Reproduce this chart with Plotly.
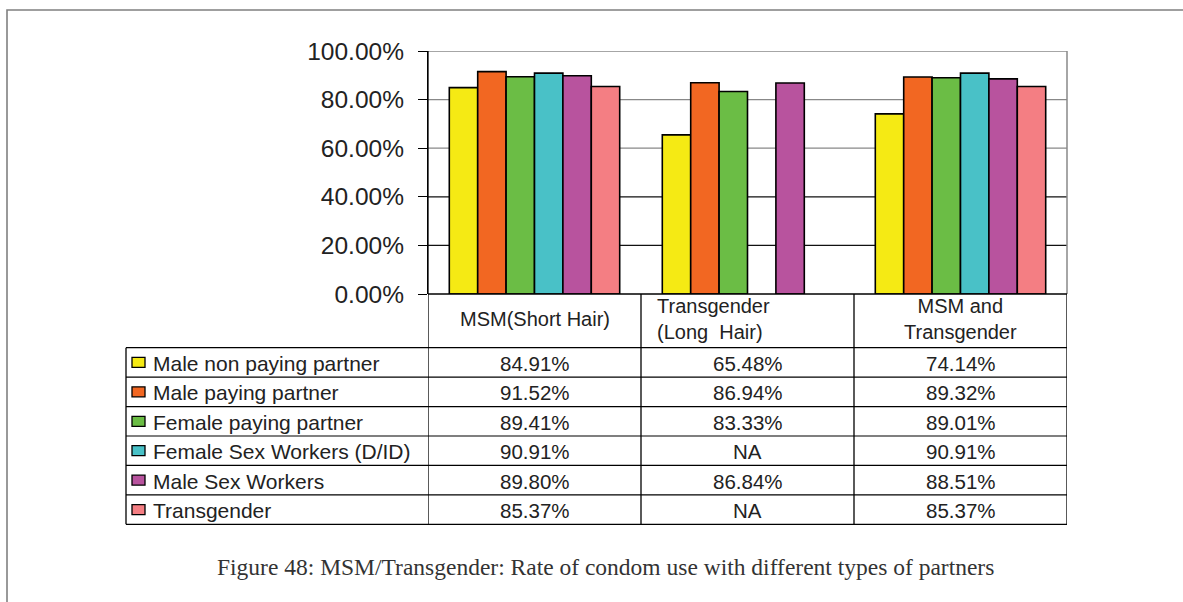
import plotly.graph_objects as go

# ---- data -------------------------------------------------------------
categories = ["MSM(Short Hair)", "Transgender (Long Hair)", "MSM and Transgender"]
category_headers = ["MSM(Short Hair)", "Transgender<br>(Long\u00a0\u00a0Hair)", "MSM and<br>Transgender"]

series_names = [
    "Male non paying partner",
    "Male paying partner",
    "Female paying partner",
    "Female Sex Workers (D/ID)",
    "Male Sex Workers",
    "Transgender",
]
male_non_paying = [84.91, 65.48, 74.14]
male_paying = [91.52, 86.94, 89.32]
female_paying = [89.41, 83.33, 89.01]
female_sex_workers = [90.91, None, 90.91]
male_sex_workers = [89.80, 86.84, 88.51]
transgender = [85.37, None, 85.37]
series_values = [male_non_paying, male_paying, female_paying,
                 female_sex_workers, male_sex_workers, transgender]

y_ticks = [0, 20, 40, 60, 80, 100]
y_tick_labels = [f"{t:.2f}%" for t in y_ticks]
caption = "Figure 48: MSM/Transgender: Rate of condom use with different types of partners"

# ---- style ------------------------------------------------------------
colors = ["#F5EA14", "#F26722", "#6BBD45", "#49C1C7", "#B8539E", "#F47E83"]
SANS = "Liberation Sans, Arial, sans-serif"
SERIF = "Liberation Serif, Times New Roman, serif"
TEXT = "#222222"

W, H = 1183, 602
PL, PR, PT, PB = 428, 1067, 51, 294  # plot area in pixels


def px(x):
    return (x - PL) / (PR - PL)


def py(y):
    return (PB - y) / (PB - PT)


HEADER_BOTTOM = 347.7
ROW_H = 29.43
TABLE_LEFT = 126

fig = go.Figure()
for name, vals, col in zip(series_names, series_values, colors):
    fig.add_trace(go.Bar(
        x=categories, y=vals, name=name,
        marker=dict(color=col, line=dict(color="black", width=1.6)),
        showlegend=False, hoverinfo="x+y+name",
    ))

shapes = []
annotations = []

# gridlines
for t in y_ticks[1:]:
    shapes.append(dict(type="line", xref="paper", yref="y", x0=0, x1=1, y0=t, y1=t,
                       line=dict(color="#888888" if t >= 60 else "#111111", width=1.3),
                       layer="below"))
# right border of plot area
shapes.append(dict(type="line", xref="paper", yref="paper", x0=1, x1=1, y0=0, y1=1,
                   line=dict(color="#888888", width=1.5)))

# table: horizontal rules
shapes.append(dict(type="line", xref="paper", yref="paper", x0=0, x1=1, y0=0, y1=0,
                   line=dict(color="black", width=1.3)))
for i in range(len(series_names) + 1):
    yy = HEADER_BOTTOM + i * ROW_H
    shapes.append(dict(type="line", xref="paper", yref="paper",
                       x0=px(TABLE_LEFT), x1=1, y0=py(yy), y1=py(yy),
                       line=dict(color="black", width=1.2)))
# table: vertical rules on category boundaries
table_bottom = HEADER_BOTTOM + len(series_names) * ROW_H
for k in range(len(categories) + 1):
    shapes.append(dict(type="line", xref="x", yref="paper",
                       x0=k - 0.5, x1=k - 0.5, y0=1 if k == 0 else 0, y1=py(table_bottom),
                       line=dict(color="black", width=1.3)))
shapes.append(dict(type="line", xref="paper", yref="paper",
                   x0=px(TABLE_LEFT), x1=px(TABLE_LEFT), y0=py(HEADER_BOTTOM), y1=py(table_bottom),
                   line=dict(color="black", width=1.3)))

# header cells
for k, hdr in enumerate(category_headers):
    if k == 1:
        annotations.append(dict(xref="paper", yref="paper", x=px(655), y=py(319),
                                text=hdr, showarrow=False, xanchor="left", yanchor="middle",
                                align="left", font=dict(family=SANS, size=20, color=TEXT)))
    else:
        annotations.append(dict(xref="x", yref="paper", x=categories[k], y=py(319),
                                text=hdr, showarrow=False, xanchor="center", yanchor="middle",
                                align="center", font=dict(family=SANS, size=20, color=TEXT)))

# rows: legend swatch, series name, values
for i, (name, vals, col) in enumerate(zip(series_names, series_values, colors)):
    yc = HEADER_BOTTOM + (i + 0.5) * ROW_H
    shapes.append(dict(type="rect", xref="paper", yref="paper",
                       x0=px(132), x1=px(145), y0=py(yc - 5), y1=py(yc + 5),
                       fillcolor=col, line=dict(color="black", width=1.3)))
    annotations.append(dict(xref="paper", yref="paper", x=px(151), y=py(yc + 1),
                            text=name, showarrow=False, xanchor="left", yanchor="middle",
                            font=dict(family=SANS, size=21, color=TEXT)))
    for cat, v in zip(categories, vals):
        label = "NA" if v is None else f"{v:.2f}%"
        annotations.append(dict(xref="x", yref="paper", x=cat, y=py(yc + 1),
                                text=label, showarrow=False, xanchor="center", yanchor="middle",
                                font=dict(family=SANS, size=20.5, color=TEXT)))

# caption
annotations.append(dict(xref="paper", yref="paper", x=px(605), y=py(567),
                        text=caption, showarrow=False, xanchor="center", yanchor="middle",
                        font=dict(family=SERIF, size=23.5, color="#333333")))

# outer frame
shapes.append(dict(type="rect", xref="paper", yref="paper",
                   x0=px(7), x1=px(1250), y0=py(10), y1=py(700),
                   line=dict(color="#808080", width=1.6), fillcolor="rgba(0,0,0,0)"))

fig.update_layout(
    width=W, height=H,
    margin=dict(l=PL, r=W - PR, t=PT, b=H - PB),
    paper_bgcolor="white", plot_bgcolor="white",
    barmode="group", bargap=0.2, bargroupgap=0,
    shapes=shapes, annotations=annotations,
    xaxis=dict(range=[-0.5, 2.5], showticklabels=False, showgrid=False,
               zeroline=False, ticks="", fixedrange=True),
    yaxis=dict(range=[0, 100], tickvals=y_ticks, ticktext=y_tick_labels,
               showgrid=False, zeroline=False, showline=True, linecolor="black", linewidth=1.3,
               ticks="outside", ticklen=9, tickcolor="black", tickwidth=1.3,
               ticklabelstandoff=9,
               tickfont=dict(family=SANS, size=24.5, color=TEXT), fixedrange=True),
)

fig.write_html("out.html")
